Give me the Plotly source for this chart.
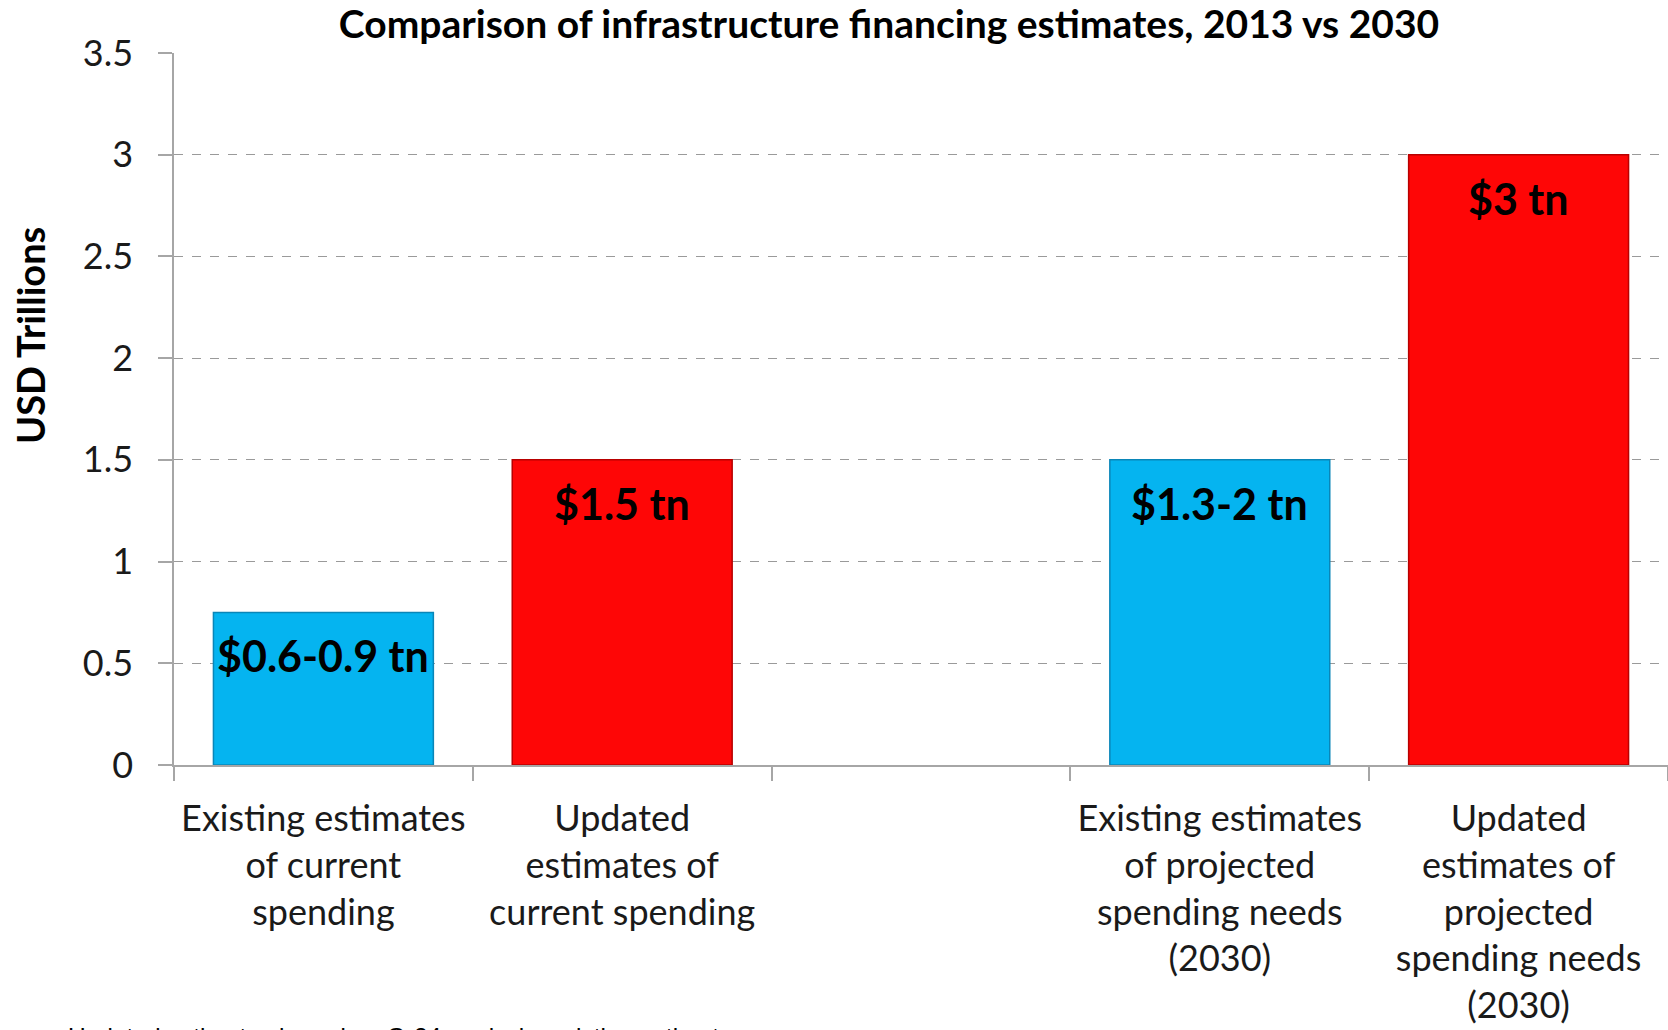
import plotly.graph_objects as go

# Chart data
categories = [
    "Existing estimates<br>of current<br>spending",
    "Updated<br>estimates of<br>current spending",
    " ",
    "Existing estimates<br>of projected<br>spending needs<br>(2030)",
    "Updated<br>estimates of<br>projected<br>spending needs<br>(2030)",
]
values = [0.75, 1.5, None, 1.5, 3.0]
bar_labels = ["$0.6-0.9 tn", "$1.5 tn", "", "$1.3-2 tn", "$3 tn"]
bar_colors = ["#05B4F0", "#FE0606", "#FFFFFF", "#05B4F0", "#FE0606"]
edge_colors = ["#0A86B8", "#B80000", "#FFFFFF", "#0A86B8", "#B80000"]
y_ticks = [0, 0.5, 1, 1.5, 2, 2.5, 3, 3.5]
y_tick_text = ["0", "0.5", "1", "1.5", "2", "2.5", "3", "3.5"]

W, H = 1668, 1030
ML, MR, MT, MB = 174, 0, 53, 265

fig = go.Figure()
fig.add_trace(go.Bar(
    x=categories,
    y=values,
    marker=dict(color=bar_colors, line=dict(color=edge_colors, width=1.5)),
    hoverinfo="skip",
))

# Value labels sitting just under each bar top
for cat, val, lab in zip(categories, values, bar_labels):
    if val is None or not lab:
        continue
    fig.add_annotation(
        x=cat, y=val, xref="x", yref="y",
        text=f"<b>{lab}</b>", showarrow=False,
        yanchor="top", yshift=-16,
        font=dict(family="Lato", size=43, color="#000000"),
    )

# Rotated y-axis title
fig.add_annotation(
    xref="paper", yref="paper",
    x=(30 - ML) / (W - ML - MR), y=(H - MB - 336) / (H - MB - MT),
    text="<b>USD Trillions</b>", textangle=-90, showarrow=False,
    xanchor="center", yanchor="middle",
    font=dict(family="Lato", size=38, color="#000000"),
)

# Footnote running off the bottom edge
fig.add_annotation(
    xref="paper", yref="paper",
    x=(66 - ML) / (W - ML - MR), y=(H - MB - 1021) / (H - MB - MT),
    text="Updated estimates based on G-24 analysis; existing estimates",
    showarrow=False, xanchor="left", yanchor="top",
    font=dict(family="Liberation Sans", size=24.5, color="#000000"),
)

fig.update_layout(
    width=W, height=H,
    margin=dict(l=ML, r=MR, t=MT, b=MB),
    paper_bgcolor="white", plot_bgcolor="white",
    bargap=0.264,
    showlegend=False,
    title=dict(
        text="<b>Comparison of infrastructure financing estimates, 2013 vs 2030</b>",
        x=889 / W, xanchor="center", xref="container",
        y=1 - 24 / H, yanchor="middle", yref="container",
        font=dict(family="Lato", size=39, color="#000000"),
    ),
)

fig.update_xaxes(
    type="category",
    range=[-0.5, 4.5],
    tickson="boundaries",
    ticks="outside", ticklen=14, tickcolor="#A6A6A6", tickwidth=1.5,
    showline=True, linecolor="#A6A6A6", linewidth=1.5,
    showgrid=False,
    tickangle=0,
    tickfont=dict(family="Lato", size=36, color="#1A1A1A"),
    ticklabelstandoff=21,
)

fig.update_yaxes(
    range=[0, 3.5],
    tickvals=y_ticks, ticktext=y_tick_text,
    ticks="outside", ticklen=14, tickcolor="#A6A6A6", tickwidth=1.5,
    showline=True, linecolor="#A6A6A6", linewidth=1.5,
    showgrid=True, gridcolor="#9A9A9A", griddash="dash", gridwidth=1,
    zeroline=False,
    tickfont=dict(family="Lato", size=36, color="#1A1A1A"),
    ticklabelstandoff=18,
)

fig.write_html("out.html")
